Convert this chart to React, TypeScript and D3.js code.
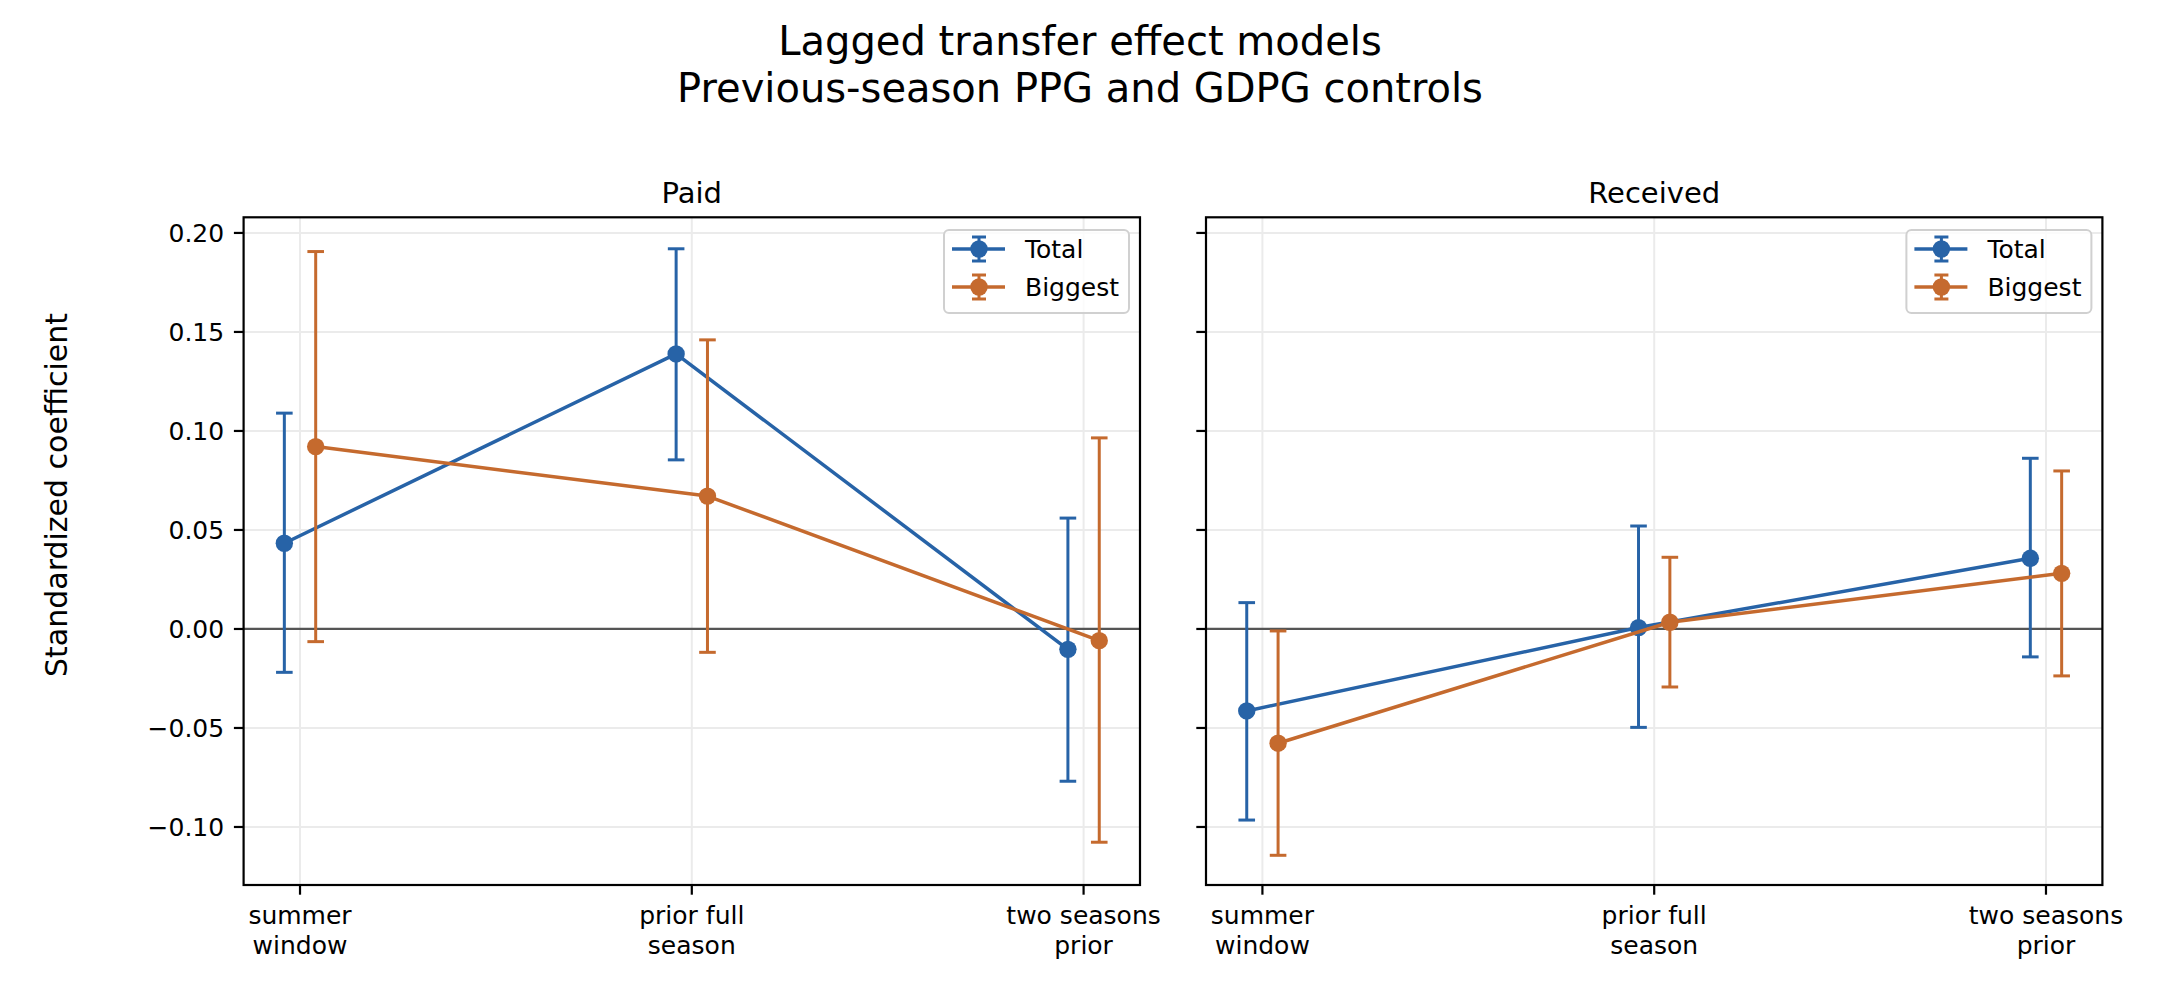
import * as d3 from "d3";

const categories = [
  ["summer", "window"],
  ["prior full", "season"],
  ["two seasons", "prior"],
];
const panelTitles = ["Paid", "Received"];
const seriesNames = ["Total", "Biggest"];
const seriesColors = ["#2763a7", "#c56a2e"];
const seriesOffsets = [-0.04, 0.04];

const paidTotal = [0.0433, 0.1389, -0.0103];
const paidTotalLow = [-0.0219, 0.0854, -0.0769];
const paidTotalHigh = [0.109, 0.192, 0.056];
const paidBiggest = [0.0921, 0.0671, -0.0059];
const paidBiggestLow = [-0.0064, -0.0118, -0.1077];
const paidBiggestHigh = [0.1906, 0.146, 0.0965];

const receivedTotal = [-0.0414, 0.0007, 0.0357];
const receivedTotalLow = [-0.0965, -0.0497, -0.0141];
const receivedTotalHigh = [0.0133, 0.052, 0.0862];
const receivedBiggest = [-0.0577, 0.0034, 0.0281];
const receivedBiggestLow = [-0.1143, -0.0293, -0.0237];
const receivedBiggestHigh = [-0.001, 0.0362, 0.0798];

const yTicks = [-0.1, -0.05, 0, 0.05, 0.1, 0.15, 0.2];

const panels = [
  {
    title: panelTitles[0],
    series: [
      { mid: paidTotal, lo: paidTotalLow, hi: paidTotalHigh },
      { mid: paidBiggest, lo: paidBiggestLow, hi: paidBiggestHigh },
    ],
  },
  {
    title: panelTitles[1],
    series: [
      { mid: receivedTotal, lo: receivedTotalLow, hi: receivedTotalHigh },
      { mid: receivedBiggest, lo: receivedBiggestLow, hi: receivedBiggestHigh },
    ],
  },
];

const W = 2160;
const H = 990;
const top = 217.3;
const bottom = 885;
const axLefts = [243.6, 1206];
const axWidth = 896.4;
const font = "'DejaVu Sans', sans-serif";

const y = d3.scaleLinear().domain([-0.1293, 0.2079]).range([bottom, top]);
const fmt = d3.format(".2f");

function Panel({ idx }: { idx: number }) {
  const p = panels[idx];
  const left = axLefts[idx];
  const right = left + axWidth;
  const x = d3.scaleLinear().domain([-0.144, 2.144]).range([left, right]);
  const cap = 8.3;
  const lgX = right - 196;
  const lgY = 230;

  return (
    <g>
      {/* grid */}
      {yTicks.map((t) => (
        <line key={"gy" + t} x1={left} x2={right} y1={y(t)} y2={y(t)} stroke="#ebebeb" strokeWidth={2} />
      ))}
      {categories.map((_, i) => (
        <line key={"gx" + i} x1={x(i)} x2={x(i)} y1={top} y2={bottom} stroke="#ebebeb" strokeWidth={2} />
      ))}
      <line x1={left} x2={right} y1={y(0)} y2={y(0)} stroke="#555555" strokeWidth={2.2} />

      {p.series.map((s, si) => {
        const col = seriesColors[si];
        const xs = (i: number) => x(i + seriesOffsets[si]);
        const pathD = d3
          .line<number>()
          .x((_, i) => xs(i))
          .y((d) => y(d))(s.mid) as string;
        return (
          <g key={"s" + si}>
            {s.mid.map((_, i) => (
              <g key={"e" + i} stroke={col} strokeWidth={3}>
                <line x1={xs(i)} x2={xs(i)} y1={y(s.lo[i])} y2={y(s.hi[i])} />
                <line x1={xs(i) - cap} x2={xs(i) + cap} y1={y(s.lo[i])} y2={y(s.lo[i])} />
                <line x1={xs(i) - cap} x2={xs(i) + cap} y1={y(s.hi[i])} y2={y(s.hi[i])} />
              </g>
            ))}
            <path d={pathD} fill="none" stroke={col} strokeWidth={3.5} strokeLinejoin="round" />
            {s.mid.map((d, i) => (
              <circle key={"c" + i} cx={xs(i)} cy={y(d)} r={8.7} fill={col} />
            ))}
          </g>
        );
      })}

      {/* frame */}
      <rect x={left} y={top} width={axWidth} height={bottom - top} fill="none" stroke="#000" strokeWidth={2.2} />

      {/* y ticks */}
      {yTicks.map((t) => (
        <g key={"yt" + t}>
          <line x1={left - 9.7} x2={left} y1={y(t)} y2={y(t)} stroke="#000" strokeWidth={2.2} />
          {idx === 0 && (
            <text x={left - 19.4} y={y(t)} dy="0.36em" textAnchor="end" fontSize={25} fontFamily={font}>
              {fmt(t)}
            </text>
          )}
        </g>
      ))}
      {/* x ticks */}
      {categories.map((c, i) => (
        <g key={"xt" + i}>
          <line x1={x(i)} x2={x(i)} y1={bottom} y2={bottom + 9.7} stroke="#000" strokeWidth={2.2} />
          {c.map((ln, li) => (
            <text key={li} x={x(i)} y={924.3 + li * 29.5} textAnchor="middle" fontSize={25} fontFamily={font}>
              {ln}
            </text>
          ))}
        </g>
      ))}

      <text x={(left + right) / 2} y={202.7} textAnchor="middle" fontSize={29} fontFamily={font}>
        {p.title}
      </text>

      {/* legend */}
      <rect x={lgX} y={lgY} width={185} height={83} rx={5} fill="#fff" fillOpacity={0.8} stroke="#d0d0d0" strokeWidth={2} />
      {seriesNames.map((n, si) => {
        const ry = lgY + 19 + si * 38;
        const mx = lgX + 35;
        const col = seriesColors[si];
        return (
          <g key={"lg" + si}>
            <g stroke={col} strokeWidth={3}>
              <line x1={lgX + 8} x2={lgX + 61} y1={ry} y2={ry} strokeWidth={3.5} />
              <line x1={mx} x2={mx} y1={ry - 12} y2={ry + 12} />
              <line x1={mx - 7} x2={mx + 7} y1={ry - 12} y2={ry - 12} />
              <line x1={mx - 7} x2={mx + 7} y1={ry + 12} y2={ry + 12} />
            </g>
            <circle cx={mx} cy={ry} r={8.7} fill={col} />
            <text x={lgX + 81} y={ry} dy="0.36em" fontSize={25} fontFamily={font}>
              {n}
            </text>
          </g>
        );
      })}
    </g>
  );
}

export default function App() {
  return (
    <svg
      width={W}
      height={H}
      viewBox={`0 0 ${W} ${H}`}
      style={{ position: "absolute", left: 0, top: 0, background: "#fff" }}
    >
      <rect width={W} height={H} fill="#fff" />
      <text x={W / 2} y={55} textAnchor="middle" fontSize={40} fontFamily={font}>
        Lagged transfer effect models
      </text>
      <text x={W / 2} y={102} textAnchor="middle" fontSize={40} fontFamily={font}>
        Previous-season PPG and GDPG controls
      </text>
      <text
        transform={`translate(66.7, 495) rotate(-90)`}
        textAnchor="middle"
        fontSize={30}
        fontFamily={font}
      >
        Standardized coefficient
      </text>
      <Panel idx={0} />
      <Panel idx={1} />
    </svg>
  );
}
